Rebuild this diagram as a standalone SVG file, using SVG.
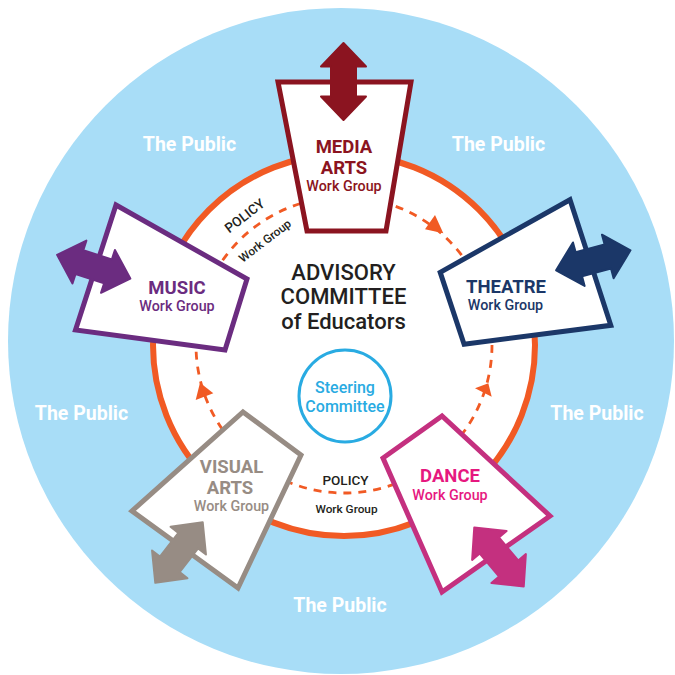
<svg xmlns="http://www.w3.org/2000/svg" width="675" height="675" viewBox="0 0 675 675">
<style>
text{font-family:Roboto,"Liberation Sans",sans-serif;text-anchor:middle}
.pub{fill:#fff;font-weight:700;font-size:19.5px}
.node{fill:#fff;stroke-width:5;stroke-linejoin:miter}
.h{font-weight:700;font-size:18.5px}
.wg{font-weight:500;font-size:14.3px}
.adv{fill:#231f20;font-weight:500;font-size:22px}
.pol{fill:#231f20;font-weight:500;font-size:13.5px}
.pwg{fill:#231f20;font-weight:500;font-size:11.8px}
</style>
<defs>
<path id="arr" d="M0,-38.5 L22.5,-15 L12.5,-15 L12.5,15 L22.5,15 L0,38.5 L-22.5,15 L-12.5,15 L-12.5,-15 L-22.5,-15 Z" stroke-linejoin="round" stroke-width="2"/>
</defs>
<g id="background">
<circle cx="341" cy="341" r="333" fill="#a8ddf7"/>
<circle cx="344" cy="345" r="191" fill="#fff" stroke="#f15a24" stroke-width="6"/>
</g>
<g id="public-labels">
<text class="pub" x="189.5" y="151">The Public</text>
<text class="pub" x="498.5" y="151">The Public</text>
<text class="pub" x="81.5" y="420">The Public</text>
<text class="pub" x="597" y="420">The Public</text>
<text class="pub" x="340" y="612">The Public</text>
</g>
<g id="connectors">
<circle cx="344" cy="345" r="148" fill="none" stroke="#f15a24" stroke-width="2.8" stroke-dasharray="8 7"/>
<polygon points="435,215 425,229.3 443.3,233.3" fill="#f15a24"/>
<polygon points="475,388.3 488.3,383.3 491.7,396.7" fill="#f15a24"/>
<polygon points="200,382.7 213.3,393.3 195.7,400" fill="#f15a24"/>
</g>
<g id="policy-labels">
<text class="pol" transform="translate(247.5,219.5) rotate(-37.5)">POLICY</text>
<text class="pwg" transform="translate(267.5,244) rotate(-37.5)">Work Group</text>
<text class="pol" x="345.5" y="485">POLICY</text>
<text class="pwg" x="346.5" y="512.5">Work Group</text>
</g>
<g id="advisory">
<text class="adv" x="343.5" y="280">ADVISORY</text>
<text class="adv" x="343.5" y="304">COMMITTEE</text>
<text class="adv" x="343.5" y="329">of Educators</text>
</g>
<g id="steering">
<circle cx="345" cy="396" r="46" fill="#fff" stroke="#29abe2" stroke-width="3"/>
<text x="345" y="393" fill="#29abe2" font-weight="500" font-size="16">Steering</text>
<text x="345" y="412" fill="#29abe2" font-weight="500" font-size="16">Committee</text>
</g>
<g id="media-arts">
<polygon class="node" stroke="#8b1420" points="278,82 411,82 386,231 307,231"/>
<use href="#arr" fill="#8b1420" stroke="#8b1420" transform="translate(343.5,81.5)"/>
<text class="h" fill="#8b1420" x="344" y="153">MEDIA</text>
<text class="h" fill="#8b1420" x="344" y="173.5">ARTS</text>
<text class="wg" fill="#8b1420" x="344" y="190.5">Work Group</text>
</g>
<g id="theatre">
<polygon class="node" stroke="#1b3768" points="570,199.7 610.8,325.3 464.1,344.2 440.2,272.3"/>
<use href="#arr" fill="#1b3768" stroke="#1b3768" transform="translate(593.3,260.3) rotate(75)"/>
<text class="h" fill="#1b3768" x="506" y="292.5">THEATRE</text>
<text class="wg" fill="#1b3768" x="505.5" y="310">Work Group</text>
</g>
<g id="dance">
<polygon class="node" stroke="#c4307f" points="442,416 383,458 442,592 550,516"/>
<use href="#arr" fill="#c4307f" stroke="#c4307f" transform="translate(499,557) rotate(-40)"/>
<text class="h" fill="#e6187f" x="450" y="482">DANCE</text>
<text class="wg" fill="#e6187f" x="450" y="499.5">Work Group</text>
</g>
<g id="visual-arts">
<polygon class="node" stroke="#978c84" points="243,412 301,455 238,588 132,511"/>
<use href="#arr" fill="#978c84" stroke="#978c84" transform="translate(179,552.5) rotate(38)"/>
<text class="h" fill="#978c84" x="231.5" y="473">VISUAL</text>
<text class="h" fill="#978c84" x="230" y="493.5">ARTS</text>
<text class="wg" fill="#978c84" x="231.5" y="510.5">Work Group</text>
</g>
<g id="music">
<polygon class="node" stroke="#6b2c80" points="116,205 247,279 225,350 75.5,330"/>
<use href="#arr" fill="#6b2c80" stroke="#6b2c80" transform="translate(93.7,266.7) rotate(-72)"/>
<text class="h" fill="#6b2c80" x="177" y="293.5">MUSIC</text>
<text class="wg" fill="#6b2c80" x="177" y="311">Work Group</text>
</g>
</svg>
